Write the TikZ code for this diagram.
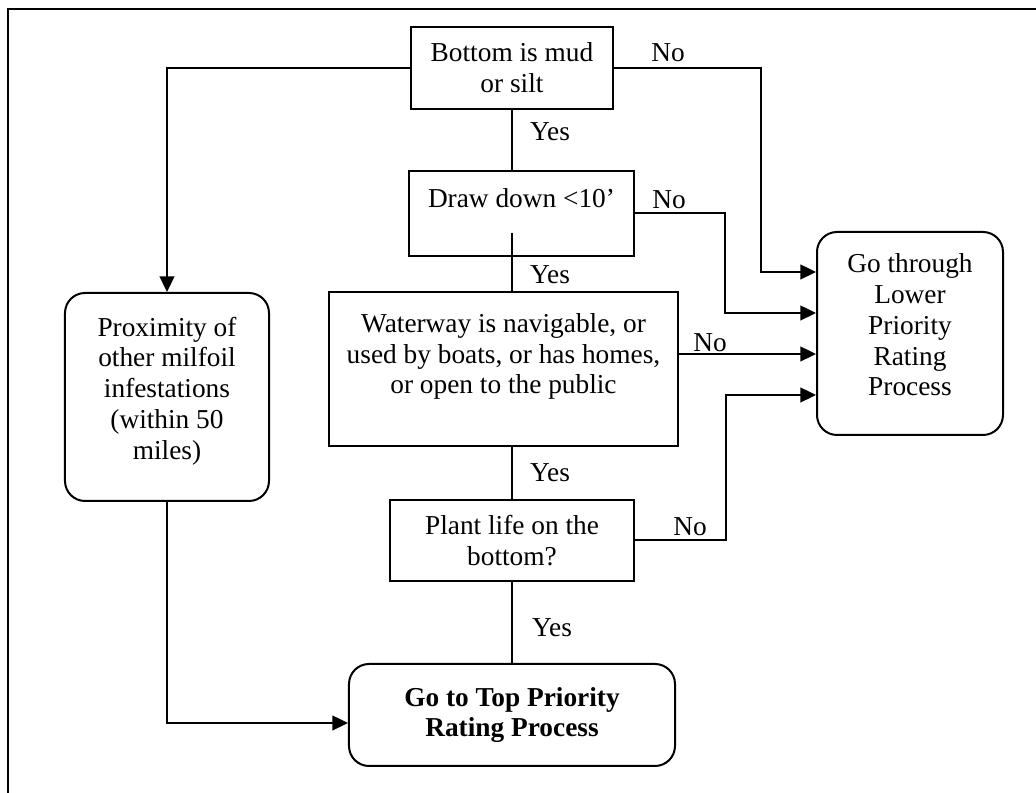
\documentclass[tikz,border=0pt]{standalone}
\usepackage{fontspec}
\setmainfont{Liberation Serif}
\usepackage{tikz}
\usetikzlibrary{arrows.meta,calc,positioning}

\begin{document}
\begin{tikzpicture}[
    x=0.45pt, y=-0.45pt,
    every node/.style={font=\fontsize{12.3}{13.9}\selectfont, inner sep=0pt},
    stepbox/.style={draw, line width=0.9pt, align=center},
    roundbox/.style={stepbox, rounded corners=9pt},
    link/.style={line width=0.9pt},
    arr/.style={link, -{Triangle[length=7pt,width=6.6pt]}}
]
    \useasboundingbox (0,0) rectangle (1036,793);
    \draw[line width=1pt] (1036,9) -| (8,793);

    \node[stepbox, minimum width=90.9pt, minimum height=36.9pt] (mud) at (512,68)
        {Bottom is mud\\or silt};
    \node[stepbox, minimum width=101.25pt, minimum height=38.25pt] (draw) at (521.5,213.5)
        {Draw down <10'\\\mbox{}};
    \node[stepbox, minimum width=157pt, minimum height=69.3pt] (water) at (503.5,369)
        {Waterway is navigable, or\\used by boats, or has homes,\\or open to the public\\\mbox{}};
    \node[stepbox, minimum width=109.8pt, minimum height=36.45pt] (plant) at (512,540.5)
        {Plant life on the\\bottom?};
    \node[roundbox, minimum width=146.7pt, minimum height=45.9pt] (top) at (512,715)
        {\textbf{Go to Top Priority}\\\textbf{Rating Process}};
    \node[roundbox, minimum width=83.7pt, minimum height=91.35pt] (lower) at (910,333.5)
        {Go through\\Lower\\Priority\\Rating\\Process\\[-6pt]\mbox{}};
    \node[roundbox, minimum width=91.8pt, minimum height=93.6pt] (prox) at (167,397)
        {Proximity of\\other milfoil\\infestations\\(within 50\\miles)\\[-6pt]\mbox{}};

    \coordinate (L1) at ($(lower.north west)!0.2!(lower.south west)$);
    \coordinate (L2) at ($(lower.north west)!0.4!(lower.south west)$);
    \coordinate (L3) at ($(lower.north west)!0.6!(lower.south west)$);
    \coordinate (L4) at ($(lower.north west)!0.8!(lower.south west)$);

    \draw[link] (mud.south) -- (mud.south |- draw.north);
    \draw[link] ($(draw.south -| mud.south)+(0,-24)$) -- (water.north -| mud.south);
    \draw[link] (water.south -| plant.north) -- (plant.north);
    \draw[link] (plant.south) -- (top.north);

    \draw[arr] (mud.west) -| (prox.north);
    \draw[arr] (prox.south) |- ($(top.west)+(0,8)$);

    \draw[arr] (mud.east) -- ++(147,0) |- (L1);
    \draw[arr] (draw.east) -- ++(90,0) |- (L2);
    \draw[arr] (water.east |- L3) -- (L3);
    \draw[arr] (plant.east) -- ++(91,0) |- (L4);

    \node (no1) at (668,53) {No};
    \node (yes1) at (550,132) {Yes};
    \node (no2) at (669,200) {No};
    \node (yes2) at (550,275) {Yes};
    \node (no3) at (710,343) {No};
    \node (yes3) at (550,473) {Yes};
    \node (no4) at (690,527) {No};
    \node (yes4) at (552,628) {Yes};
\end{tikzpicture}
\end{document}
